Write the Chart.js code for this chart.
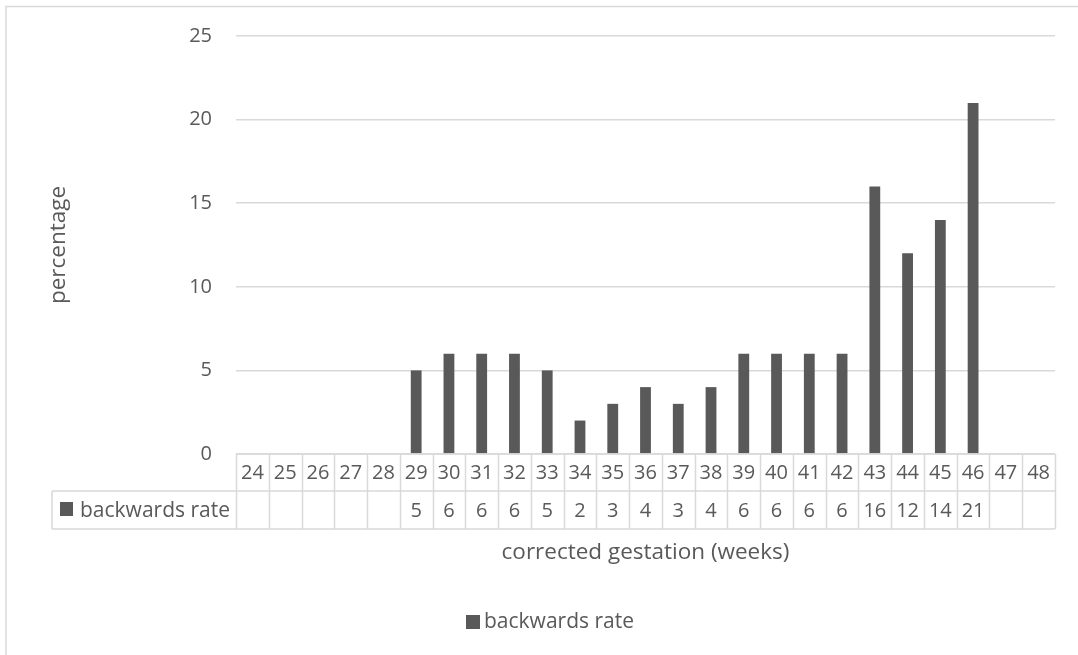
<!DOCTYPE html>
<html>
<head>
<meta charset="utf-8">
<script src="https://cdn.jsdelivr.net/npm/chart.js@4/dist/chart.umd.min.js"></script>
<style>
html,body{margin:0;padding:0;background:#fff;}
#wrap{width:1078px;height:655px;position:relative;}
</style>
</head>
<body>
<div id="wrap"><canvas id="c" width="1078" height="655"></canvas></div>
<script>
const weeks = ['24','25','26','27','28','29','30','31','32','33','34','35','36','37','38','39','40','41','42','43','44','45','46','47','48'];
const backwardsRate = [null,null,null,null,null,5,6,6,6,5,2,3,4,3,4,6,6,6,6,16,12,14,21,null,null];
const seriesName = 'backwards rate';
const yTitle = 'percentage';
const xTitle = 'corrected gestation (weeks)';
const yMin = 0, yMax = 25, yStep = 5;

const TEXT = '#595959';
const BAR = '#595959';
const LINE = '#d9d9d9';
const FONT = '"Open Sans", sans-serif';
const FS = 20;      // numbers
const FS_LBL = 21;  // series name text
const FS_TTL = 22.5; // axis titles

const tablePlugin = {
  id: 'dataTable',
  afterDraw(chart) {
    const ctx = chart.ctx;
    const x = chart.scales.x;
    const ca = chart.chartArea;
    const n = weeks.length;
    const colW = (ca.right - ca.left) / n;
    const r0 = Math.round(ca.bottom), r1 = 491, r2 = 529;
    const hdrL = 52;
    ctx.save();
    ctx.strokeStyle = LINE; ctx.lineWidth = 1.5;
    ctx.beginPath();
    ctx.moveTo(6, 660); ctx.lineTo(6, 6.5); ctx.lineTo(1090, 6.5);
    ctx.stroke();
    ctx.beginPath();
    ctx.moveTo(ca.left, r0); ctx.lineTo(ca.right, r0);
    ctx.moveTo(hdrL, r1); ctx.lineTo(ca.right, r1);
    ctx.moveTo(hdrL, r2); ctx.lineTo(ca.right, r2);
    ctx.moveTo(hdrL, r1); ctx.lineTo(hdrL, r2);
    for (let i = 0; i <= n; i++) {
      const px = Math.round(ca.left + i * colW) + 0.5;
      ctx.moveTo(px, r0); ctx.lineTo(px, r2);
    }
    ctx.stroke();
    ctx.fillStyle = TEXT;
    ctx.font = FS + 'px ' + FONT;
    ctx.textAlign = 'center'; ctx.textBaseline = 'middle';
    for (let i = 0; i < n; i++) {
      const cx = x.getPixelForValue(i);
      ctx.fillText(weeks[i], cx, (r0 + r1) / 2 + 1);
      if (backwardsRate[i] !== null) ctx.fillText(String(backwardsRate[i]), cx, (r1 + r2) / 2 + 1);
    }
    ctx.fillStyle = BAR;
    ctx.fillRect(60, 502, 13, 14);
    ctx.fillStyle = TEXT;
    ctx.font = FS_LBL + 'px ' + FONT;
    ctx.textAlign = 'left';
    ctx.fillText(seriesName, 80, (r1 + r2) / 2 + 1);
    ctx.font = FS_TTL + 'px ' + FONT;
    ctx.textAlign = 'center';
    ctx.fillText(xTitle, (ca.left + ca.right) / 2, 553);
    ctx.fillStyle = BAR;
    ctx.fillRect(466, 615, 14, 14);
    ctx.fillStyle = TEXT;
    ctx.font = FS_LBL + 'px ' + FONT;
    ctx.textAlign = 'left';
    ctx.fillText(seriesName, 484, 622);
    ctx.restore();
  }
};

new Chart(document.getElementById('c'), {
  type: 'bar',
  data: {
    labels: weeks,
    datasets: [{
      label: seriesName,
      data: backwardsRate,
      backgroundColor: BAR,
      borderWidth: 0,
      barPercentage: 0.33,
      categoryPercentage: 1.0
    }]
  },
  options: {
    responsive: false,
    animation: false,
    devicePixelRatio: 1,
    layout: { padding: { top: 35, right: 23, bottom: 201, left: 0 } },
    plugins: { legend: { display: false }, tooltip: { enabled: false } },
    scales: {
      x: { display: false, offset: true },
      y: {
        min: yMin, max: yMax,
        afterFit(s) { s.width = 236; },
        border: { display: false },
        grid: { color: LINE, lineWidth: 1.5, drawTicks: false },
        ticks: { stepSize: yStep, color: TEXT, padding: 24, font: { family: FONT, size: FS } },
        title: { display: true, text: yTitle, color: TEXT, font: { family: FONT, size: FS_TTL }, padding: { top: 45, bottom: 0 } }
      }
    }
  },
  plugins: [tablePlugin]
});
</script>
</body>
</html>
